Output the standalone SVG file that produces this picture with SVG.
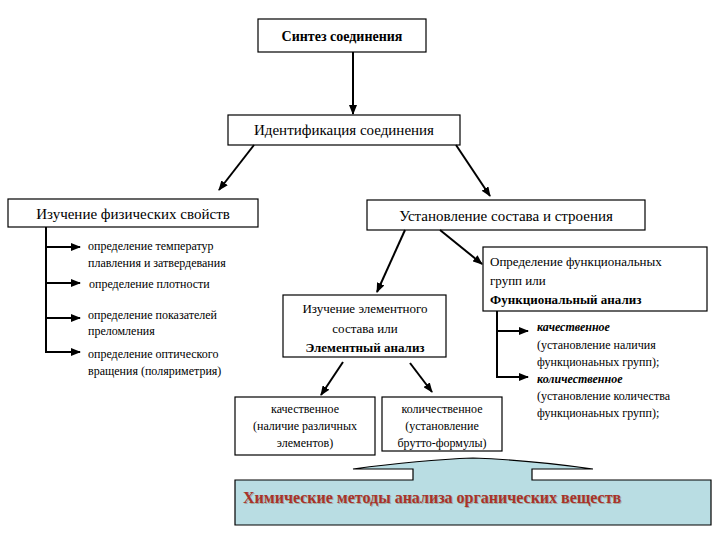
<svg xmlns="http://www.w3.org/2000/svg" width="720" height="540" viewBox="0 0 720 540" font-family="'Liberation Serif', 'Times New Roman', serif">
<defs>
<marker id="ah" markerWidth="10" markerHeight="8" refX="9" refY="4" orient="auto" markerUnits="userSpaceOnUse"><path d="M0,0 L10,4 L0,8 z" fill="#000"/></marker>
<style>
rect.b{fill:#fff;stroke:#000;stroke-width:1.2}
.c{text-anchor:middle}
.s{font-size:12px}
.m{font-size:15px}
line.a{stroke:#000;stroke-width:2;fill:none;marker-end:url(#ah)}
line.l{stroke:#000;stroke-width:2}
</style>
</defs>
<rect width="720" height="540" fill="#fff"/>
<g id="n-synth"><rect class="b" x="258" y="19" width="168" height="33"/><text class="c" x="342" y="41" font-size="14" font-weight="bold">Синтез соединения</text></g>
<g id="n-ident"><rect class="b" x="228" y="115" width="232" height="30"/><text class="c m" x="344" y="135">Идентификация соединения</text></g>
<g id="n-phys"><rect class="b" x="8" y="199" width="250" height="28"/><text class="c m" x="133" y="219">Изучение физических свойств</text></g>
<g id="n-comp"><rect class="b" x="367" y="200" width="278" height="30"/><text class="c m" x="506" y="221">Установление состава и строения</text></g>
<g id="n-phys-items">
<text class="s" x="88" y="250">определение температур</text>
<text class="s" x="88" y="267">плавления и затвердевания</text>
<text class="s" x="89" y="288">определение плотности</text>
<text class="s" x="88" y="319">определение показателей</text>
<text class="s" x="88" y="335">преломления</text>
<text class="s" x="88" y="358">определение оптического</text>
<text class="s" x="88" y="375">вращения (поляриметрия)</text>
</g>
<g id="n-elem"><rect class="b" x="283" y="295" width="163" height="62"/>
<text class="c" x="365" y="313" font-size="13">Изучение элементного</text>
<text class="c" x="365" y="333" font-size="13">состава или</text>
<text class="c" x="365" y="352" font-size="13" font-weight="bold">Элементный анализ</text></g>
<g id="n-func"><rect class="b" x="483" y="247" width="224" height="64"/>
<text x="490" y="266" font-size="13">Определение функциональных</text>
<text x="490" y="285" font-size="13">групп или</text>
<text x="490" y="304" font-size="13" font-weight="bold">Функциональный анализ</text></g>
<g id="n-func-items">
<text class="s" x="537" y="331" font-style="italic" font-weight="bold">качественное</text>
<text class="s" x="537" y="349">(установление наличия</text>
<text class="s" x="537" y="366">функционаьных групп);</text>
<text class="s" x="537" y="383" font-style="italic" font-weight="bold">количественное</text>
<text class="s" x="537" y="400">(установление количества</text>
<text class="s" x="537" y="417">функционаьных групп);</text>
</g>
<g id="n-qual"><rect class="b" x="235" y="397" width="140" height="58"/>
<text class="c s" x="305" y="413">качественное</text>
<text class="c s" x="305" y="430">(наличие различных</text>
<text class="c s" x="305" y="447">элементов)</text></g>
<g id="n-quant"><rect class="b" x="382" y="397" width="120" height="54"/>
<text class="c s" x="442" y="413">количественное</text>
<text class="c s" x="442" y="430">(установление</text>
<text class="c s" x="442" y="447">брутто-формулы)</text></g>
<g id="n-chem">
<path d="M235,480 H413 V469 H353 Q420,460 473,458 Q530,460 593,469 H532 V480 H711 V525 H235 Z" fill="#b9dde3" stroke="#000" stroke-width="1.2"/>
<text x="244" y="504" font-size="16" font-weight="bold" fill="#8a7a60" opacity="0.5">Химические методы анализа органических веществ</text>
<text x="243" y="503" font-size="16" font-weight="bold" fill="#a8322a">Химические методы анализа органических веществ</text>
</g>
<g id="connectors">
<line class="a" x1="353" y1="52" x2="353" y2="114"/>
<line class="a" x1="254" y1="145" x2="219" y2="190"/>
<line class="a" x1="456" y1="145" x2="490" y2="196"/>
<line class="l" x1="46" y1="227" x2="46" y2="353"/>
<line class="a" x1="45" y1="247" x2="80" y2="247"/>
<line class="a" x1="45" y1="283" x2="80" y2="283"/>
<line class="a" x1="45" y1="318" x2="80" y2="318"/>
<line class="a" x1="45" y1="352" x2="80" y2="352"/>
<line class="a" x1="405" y1="230" x2="377" y2="292"/>
<line class="a" x1="440" y1="230" x2="482" y2="264"/>
<line class="l" x1="497" y1="311" x2="497" y2="378"/>
<line class="a" x1="496" y1="331" x2="528" y2="331"/>
<line class="a" x1="496" y1="377" x2="528" y2="377"/>
<line class="a" x1="343" y1="362" x2="321" y2="395"/>
<line class="a" x1="410" y1="363" x2="432" y2="392"/>
</g>
</svg>
